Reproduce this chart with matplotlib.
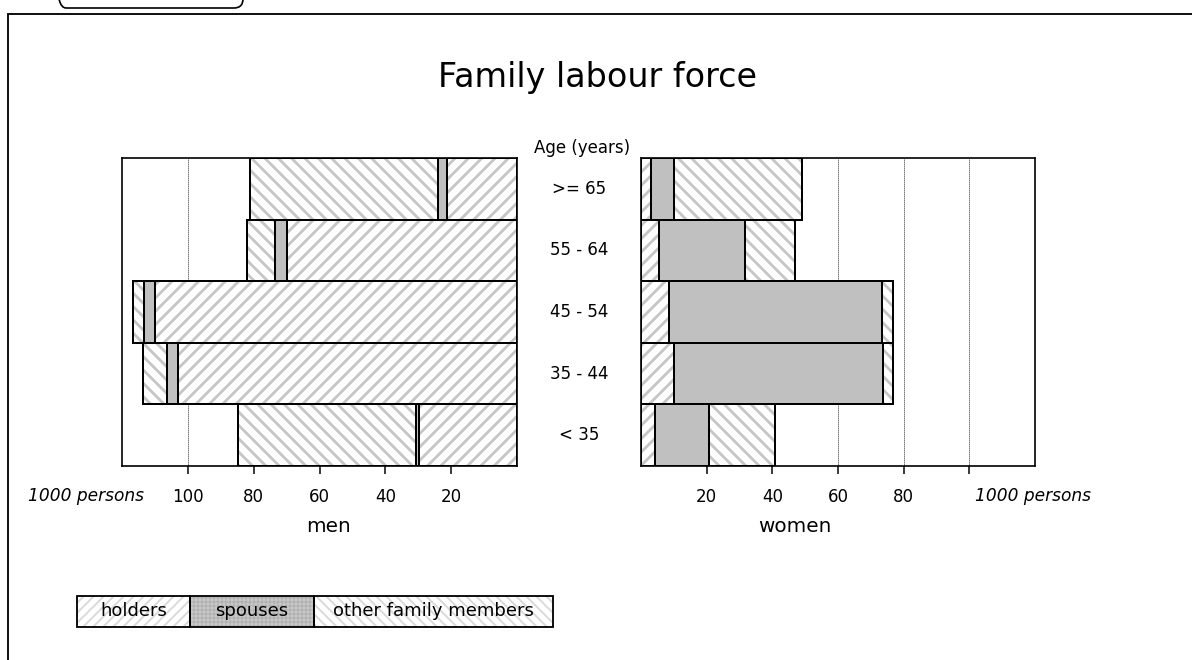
import matplotlib
matplotlib.use("Agg")
import matplotlib.pyplot as plt
from matplotlib.patches import Rectangle, FancyBboxPatch
from matplotlib.transforms import IdentityTransform, blended_transform_factory

# data, bottom row first
ages = ['< 35', '35 - 44', '45 - 54', '55 - 64', '>= 65']
men_holders = [29.7, 103.0, 110.0, 70.0, 21.3]
men_spouses = [0.9, 3.3, 3.3, 3.6, 2.6]
men_others = [54.2, 7.3, 3.3, 8.3, 57.2]
women_holders = [4.4, 9.9, 8.6, 5.6, 3.1]
women_spouses = [16.2, 63.9, 64.7, 26.2, 7.1]
women_others = [20.3, 3.0, 3.5, 15.2, 38.8]
ticks = [20, 40, 60, 80, 100]
legend_labels = ['holders', 'spouses', 'other family members']

W, H, DPI = 1192, 660, 120
HATCH_LW = 1.7
HATCH_COL = '#c6c6c6'
SPOUSE_COL = '#c0c0c0'


def px_box(x0, y0, x1, y1):
    """pixel box (top-left origin) -> figure fraction rect"""
    return [x0 / W, 1 - y1 / H, (x1 - x0) / W, (y1 - y0) / H]


def hatched(p, lw):
    if hasattr(p, 'set_hatch_linewidth'):
        p.set_hatch_linewidth(lw)
    return p


def draw_side(ax, holders, spouses, others):
    y = list(range(len(ages)))
    left = [0] * len(y)
    for vals, kind in [(holders, '///'), (spouses, None), (others, '\\\\\\')]:
        if kind is None:
            ax.barh(y, vals, left=left, height=1.0, color=SPOUSE_COL,
                    edgecolor='black', linewidth=1.2, zorder=3)
        else:
            bars = ax.barh(y, vals, left=left, height=1.0, color='white',
                           edgecolor=HATCH_COL, hatch=kind, linewidth=0, zorder=2)
            for b in bars:
                hatched(b, HATCH_LW)
            ax.barh(y, vals, left=left, height=1.0, fill=False,
                    edgecolor='black', linewidth=1.2, zorder=3)
        left = [a + b for a, b in zip(left, vals)]
    ax.set_ylim(-0.5, len(y) - 0.5)
    ax.set_yticks([])
    ax.set_xticks(ticks)
    for x in ticks:
        ax.axvline(x, color='black', linestyle=(0, (0.8, 1.2)), linewidth=0.6, zorder=1)
    ax.tick_params(axis='x', direction='out', length=4.8, width=0.9,
                   pad=8.5, labelsize=10)
    for s in ax.spines.values():
        s.set_linewidth(1.0)
        s.set_zorder(4)


plt.rcParams['hatch.linewidth'] = HATCH_LW
fig = plt.figure(figsize=(W / DPI, H / DPI), dpi=DPI)

ax_m = fig.add_axes(px_box(122, 158, 517, 466))
draw_side(ax_m, men_holders, men_spouses, men_others)
ax_m.set_xlim(120, 0)
ax_m.set_xticklabels([str(t) for t in ticks])

ax_w = fig.add_axes(px_box(641, 158, 1035, 466))
draw_side(ax_w, women_holders, women_spouses, women_others)
ax_w.set_xlim(0, 120)
ax_w.set_xticklabels([str(t) for t in ticks[:-1]] + [''])

# texts
fig.text(598 / W, 1 - 77 / H, 'Family labour force', ha='center', va='center', fontsize=20)
fig.text(582 / W, 1 - 148 / H, 'Age (years)', ha='center', va='center', fontsize=10)
tr = blended_transform_factory(fig.transFigure, ax_m.transData)
for i, a in enumerate(ages):
    ax_m.text(579 / W, i, a, transform=tr, ha='center', va='center', fontsize=10)
fig.text(86 / W, 1 - 496 / H, '1000 persons', ha='center', va='center',
         fontsize=10.2, style='italic')
fig.text(1033 / W, 1 - 496 / H, '1000 persons', ha='center', va='center',
         fontsize=10.2, style='italic')
fig.text(329 / W, 1 - 527 / H, 'men', ha='center', va='center', fontsize=12)
fig.text(795 / W, 1 - 527 / H, 'women', ha='center', va='center', fontsize=12)

# legend strip
ax_l = fig.add_axes(px_box(77, 596, 553, 627))
ax_l.set_xlim(77, 553)
ax_l.set_ylim(0, 1)
ax_l.axis('off')
cells = [(77, 190), (190, 314), (314, 553)]
styles = [('white', '#d8d8d8', '////', 1.1), ('#c8c8c8', '#acacac', '+++++', 0.5),
          ('white', '#d8d8d8', '\\\\\\\\', 1.1)]
for (x0, x1), (fc, hc, hatch, hlw), lab in zip(cells, styles, legend_labels):
    with plt.rc_context({'hatch.linewidth': hlw}):
        p = hatched(Rectangle((x0, 0), x1 - x0, 1, facecolor=fc, edgecolor=hc,
                              hatch=hatch, linewidth=0, zorder=1), hlw)
    ax_l.add_patch(p)
    ax_l.add_patch(Rectangle((x0, 0), x1 - x0, 1, fill=False, edgecolor='black',
                             linewidth=1.1, zorder=2, clip_on=False))
    ax_l.text((x0 + x1) / 2, 0.5, lab, ha='center', va='center', fontsize=10.8, zorder=3)

# outer frame and the tab at the top
frame = Rectangle((8, -20), W + 40, H - 14 + 20, transform=IdentityTransform(),
                  fill=False, edgecolor='black', linewidth=1.1)
fig.add_artist(frame)
tab = FancyBboxPatch((57, H - 8), 186, 40, boxstyle='round,pad=0,rounding_size=9',
                     transform=IdentityTransform(), fill=False, edgecolor='black',
                     linewidth=1.0)
fig.add_artist(tab)

fig.savefig('out.png', dpi=DPI)
